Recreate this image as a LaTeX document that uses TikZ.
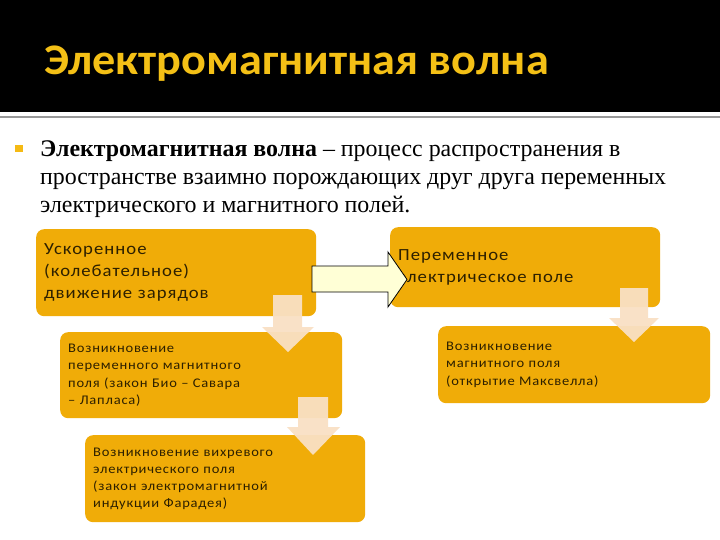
\documentclass[tikz,border=0pt]{standalone}
\usepackage{fontspec}
\setmainfont{Liberation Serif}
\newfontfamily\boxfont[FakeStretch=1.1, LetterSpace=6]{Carlito}
\newfontfamily\titlefont[FakeStretch=1.06]{Carlito}
\usetikzlibrary{calc}
\definecolor{boxc}{RGB}{240,172,8}
\definecolor{titlec}{RGB}{244,192,22}
\definecolor{peach}{RGB}{249,224,196}
\definecolor{pale}{RGB}{255,255,214}
\definecolor{boxtext}{RGB}{45,32,0}
\tikzset{
  box/.style={rectangle, rounded corners=8pt, fill=boxc, anchor=north west,
    align=left, inner xsep=8pt, inner ysep=0pt, text=boxtext},
  bigtext/.style={font=\boxfont\fontsize{17}{21.8}\selectfont},
  smalltext/.style={font=\boxfont\fontsize{13.2}{17.2}\selectfont},
  downarrow/.style={fill=peach, draw=none, opacity=0.95},
  rightarrow/.style={fill=pale, draw=black, line width=0.8pt, line join=miter}
}
\begin{document}
\begin{tikzpicture}[x=1pt,y=-1pt]
\useasboundingbox (0,0) rectangle (720,540);
\fill[white] (0,0) rectangle (720,540);
% header
\fill[black] (0,0) rectangle (720,112);
\draw[gray!80, line width=1.2pt] (0,117) -- (720,117);
\node[anchor=west, inner sep=0pt, text=titlec, font=\titlefont\bfseries\fontsize{43.6}{50}\selectfont] (title) at (44,64) {Электромагнитная волна};
% bullet
\fill[titlec!90!orange] (15,145) rectangle (23,152) coordinate (bul);
\node[anchor=north west, inner sep=0pt, align=left, font=\fontsize{23.9}{28}\selectfont] (def) at (40,140)
  {\textbf{Электромагнитная волна} – процесс распространения в\\
   пространстве взаимно порождающих друг друга переменных\\
   электрического и магнитного полей.};
% boxes
\node[box, bigtext, minimum width=280pt, minimum height=87pt, text width=264pt] (b1) at (36,229)
  {Ускоренное\\(колебательное)\\движение зарядов};
\node[box, bigtext, minimum width=270pt, minimum height=80pt, text width=254pt] (b2) at (390,227)
  {Переменное\\электрическое поле};
\node[box, smalltext, minimum width=270pt, minimum height=77pt, text width=256pt] (b3) at (438,326)
  {Возникновение\\магнитного поля\\(открытие Максвелла)};
\node[box, smalltext, minimum width=282pt, minimum height=86pt, text width=266pt] (b4) at (60,332)
  {Возникновение\\переменного магнитного\\поля (закон Био – Савара\\– Лапласа)};
\node[box, smalltext, minimum width=280pt, minimum height=87pt, text width=264pt] (b5) at (85,435)
  {Возникновение вихревого\\электрического поля\\(закон электромагнитной\\индукции Фарадея)};
% down arrows
\fill[downarrow] (273,295) -- (302,295) -- (302,327) -- (314,327) -- (288,352) -- (262,327) -- (273,327) -- cycle;
\fill[downarrow] (298,397) -- (328,397) -- (328,427) -- (340,427) -- (313,455) -- (287,427) -- (298,427) -- cycle;
\fill[downarrow] (620,288) -- (648,288) -- (648,318) -- (659,318) -- (634,342) -- (609,318) -- (620,318) -- cycle;
% right arrow
\draw[rightarrow] (312,266) -- (388,266) -- (388,252) -- (407,279.5) -- (388,307) -- (388,292) -- (312,292) -- cycle;
\end{tikzpicture}
\end{document}
